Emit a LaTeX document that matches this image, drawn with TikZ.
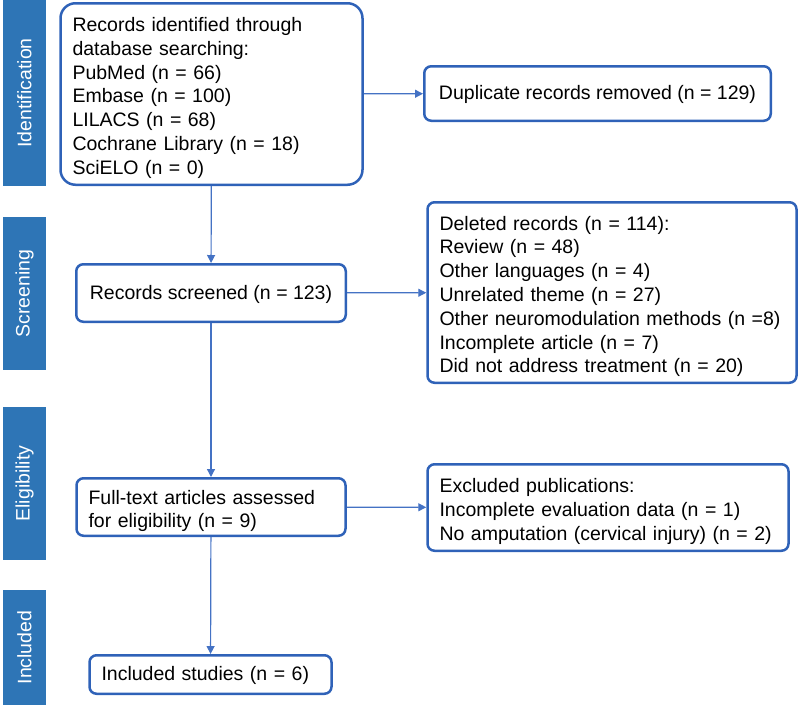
\documentclass[tikz,border=0pt]{standalone}
\usepackage{fontspec}
\setmainfont{Liberation Sans}
\usetikzlibrary{arrows.meta, positioning}
\definecolor{phaseblue}{RGB}{46,117,182}
\definecolor{boxblue}{RGB}{47,98,184}
\definecolor{flowblue}{RGB}{68,114,196}
\tikzstyle{phase}=[rectangle,fill=phaseblue,text=white,rotate=90,minimum height=43pt,inner sep=0pt,font=\fontsize{19.5}{23.8}\selectfont]
\tikzstyle{record}=[rectangle,draw=boxblue,line width=2.5pt,rounded corners=7pt,align=left,inner xsep=12pt,inner ysep=0pt,font=\fontsize{19.5}{23.8}\selectfont]
\tikzstyle{listbox}=[record,execute at begin node=\rule{0pt}{22pt}]
\tikzstyle{single}=[record,execute at begin node=\rule{0pt}{17pt}]
\tikzstyle{flow}=[-{Triangle[length=8pt,width=8pt]},draw=flowblue,line width=1.2pt]

\begin{document}
\begin{tikzpicture}[x=1pt,y=1pt]

  \useasboundingbox (0,0) rectangle (800,-705);

  \foreach \name/\lbl/\y/\len in {I/Identification/93/186, S/Screening/293.5/153, E/Eligibility/483.5/153, N/Included/647.5/115}
    \node[phase, minimum width=\len] (P-\name) at (24.5,-\y) {\lbl};

  \node[listbox, rounded corners=15pt, text width=278pt, minimum height=181.5pt] (records) at (211.5,-94)
    {Records identified through\\database searching:\\PubMed (n = 66)\\Embase (n = 100)\\LILACS (n = 68)\\Cochrane Library (n = 18)\\SciELO (n = 0)};
  \node[single, minimum width=346.5pt, minimum height=54.5pt] (duplicates) at (597.5,-93.5)
    {Duplicate records removed (n = 129)};
  \node[single, minimum width=269.5pt, minimum height=57.5pt] (screened) at (211,-293)
    {Records screened (n = 123)};
  \node[listbox, text width=345pt, minimum height=180.5pt] (deleted) at (612,-292.5)
    {Deleted records (n = 114):\\Review (n = 48)\\Other languages (n = 4)\\Unrelated theme (n = 27)\\Other neuromodulation methods (n =8)\\Incomplete article (n = 7)\\Did not address treatment (n = 20)};
  \node[listbox, text width=245pt, minimum height=57.5pt] (fulltext) at (211,-507)
    {Full-text articles assessed\\for eligibility (n = 9)};
  \node[listbox, text width=337pt, minimum height=86.5pt] (excluded) at (608,-507.5)
    {Excluded publications:\\Incomplete evaluation data (n = 1)\\No amputation (cervical injury) (n = 2)};
  \node[single, text width=218pt, minimum height=38.5pt] (included) at (210.5,-674.5)
    {Included studies (n = 6)};

  \draw[flow] (records) -- (screened);
  \draw[flow] (screened) -- (fulltext);
  \draw[flow] (fulltext) -- (included);
  \draw[flow] (records) -- (duplicates);
  \draw[flow] (screened) -- (deleted);
  \draw[flow] (fulltext) -- (excluded);

\end{tikzpicture}
\end{document}
